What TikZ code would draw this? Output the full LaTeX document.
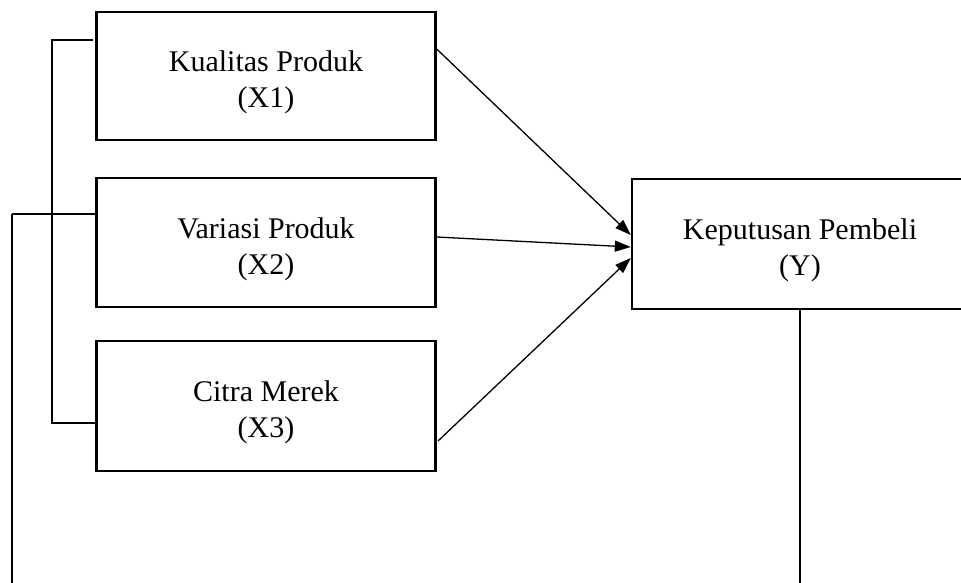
\documentclass[tikz,border=0pt]{standalone}
\usepackage{fontspec}
\setmainfont{Liberation Serif}
\usetikzlibrary{arrows.meta}
\begin{document}
\begin{tikzpicture}[x=1pt,y=-1pt,
  varbox/.style={draw, line width=2.4pt, rectangle, inner sep=0pt, align=center,
    font=\fontsize{30}{36}\selectfont},
  link/.style={line width=2.2pt},
  conn/.style={line width=1.3pt, -{Triangle[length=16pt,width=11pt]}},
  long/.style={line width=1.6pt}]
\useasboundingbox (0,0) rectangle (961,583);
\clip (0,0) rectangle (961,583);
\node[varbox, minimum width=339pt, minimum height=128pt] (b1) at (266,76) {\rule{0pt}{34pt}Kualitas Produk\\(X1)};
\node[varbox, minimum width=339pt, minimum height=129pt] (b2) at (266,242.5) {\rule{0pt}{34pt}Variasi Produk\\(X2)};
\node[varbox, minimum width=339pt, minimum height=130pt] (b3) at (266,406) {\rule{0pt}{34pt}Citra Merek\\(X3)};
\node[varbox, minimum width=336pt, minimum height=130pt] (y) at (800,244) {\rule{0pt}{34pt}Keputusan Pembeli\\(Y)};
% bracket
\coordinate (bt) at (93,40);
\coordinate (bb) at (b3.west |- 0,423);
\coordinate (bm) at (b2.west |- 0,214);
\coordinate (lt) at (12,214);
\coordinate (lb) at (12,583);
\draw[link] (bt) -- (52,40) -- (52,423) -- (bb);
\draw[link] (lt) -- (bm);
\draw[long] (lt) -- (lb);
% arrows
\coordinate (a1) at (b1.east |- 0,49);
\coordinate (a2) at (b2.east |- 0,237);
\coordinate (a3) at (438,441);
\coordinate (t1) at (y.west |- 0,235);
\coordinate (t2) at (y.west |- 0,247);
\coordinate (t3) at (y.west |- 0,258);
\draw[conn] (a1) -- (t1);
\draw[conn] (a2) -- (t2);
\draw[conn] (a3) -- (t3);
% Y down line
\coordinate (yb) at (y.south |- 0,583);
\draw[long] (y.south) -- (yb);
\end{tikzpicture}
\end{document}
